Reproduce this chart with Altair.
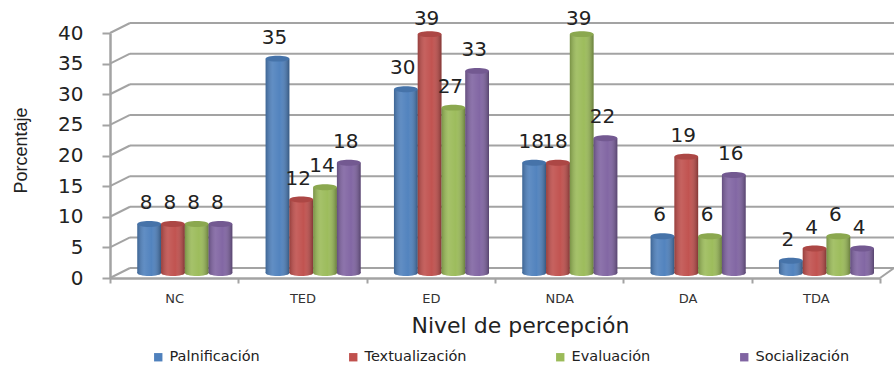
import altair as alt
import pandas as pd

# Survey results by perception level
categories = ["NC", "TED", "ED", "NDA", "DA", "TDA"]
series = ["Palnificación", "Textualización", "Evaluación", "Socialización"]
colors = ["#4f81bd", "#c0504d", "#9bbb59", "#8064a2"]
palnificacion = [8, 35, 30, 18, 6, 2]
textualizacion = [8, 12, 39, 18, 19, 4]
evaluacion = [8, 14, 27, 39, 6, 6]
socializacion = [8, 18, 33, 22, 16, 4]
y_ticks = [0, 5, 10, 15, 20, 25, 30, 35, 40]

rows = []
for name, values in zip(series, [palnificacion, textualizacion, evaluacion, socializacion]):
    for cat, v in zip(categories, values):
        rows.append({"cat": cat, "serie": name, "value": v})
data = pd.DataFrame(rows)
grid = pd.DataFrame({"tick": y_ticks})

GRAY = "#a3a3a3"
DEPTH_X = 20      # horizontal depth of the pseudo-3D box, px
DEPTH_Y = 10      # vertical depth of the pseudo-3D box, px
PLOT_W = 770
PLOT_H = 245
UNITS_PER_PX = 40 / PLOT_H
LIFT = -5         # cylinders stand mid-way on the floor

x_enc = alt.X(
    "cat:N",
    sort=categories,
    scale=alt.Scale(domain=categories, paddingInner=0, paddingOuter=0),
    axis=alt.Axis(
        title="Nivel de percepción",
        titleFont="DejaVu Sans",
        titleFontSize=22,
        titleFontWeight="normal",
        titleColor="#222222",
        titleX=410,
        titleY=37,
        labelFont="DejaVu Sans",
        labelFontSize=13,
        labelColor="#333333",
        labelAngle=0,
        labelPadding=9,
        tickBand="extent",
        tickSize=5,
        tickColor=GRAY,
        tickWidth=2,
        domainColor=GRAY,
        domainWidth=2.5,
    ),
)
y_axis = alt.Axis(
    title="Porcentaje",
    titleFont="Liberation Sans",
    titleFontSize=18,
    titleFontWeight="normal",
    titleColor="#222222",
    titleX=-80,
    titleY=117,
    labelFont="DejaVu Sans",
    labelFontSize=20,
    labelColor="#222222",
    labelPadding=19,
    values=y_ticks,
    tickSize=8,
    tickColor=GRAY,
    tickWidth=2,
    domainColor=GRAY,
    domainWidth=2.5,
    grid=False,
)
y_scale = alt.Scale(domain=[0, 40], nice=False)


def y_enc(field):
    return alt.Y(field, scale=y_scale, axis=y_axis, stack=None)


color_enc = alt.Color(
    "serie:N",
    sort=series,
    scale=alt.Scale(domain=series, range=colors),
    legend=alt.Legend(
        title=None,
        orient="none",
        direction="horizontal",
        columns=4,
        legendX=41,
        legendY=317,
        symbolType="square",
        symbolSize=70,
        symbolStrokeWidth=0,
        labelFont="DejaVu Sans",
        labelFontSize=14.5,
        labelColor="#222222",
        columnPadding=86,
        gridAlign="none",
    ),
)
# Groups sit toward the right of each band so the cylinders look set back from the axis
offset_enc = alt.XOffset(
    "serie:N",
    sort=series,
    scale=alt.Scale(domain=series, paddingInner=0, paddingOuter=0.7, align=0.82),
)

ELLIPSE = "M-1,0A1,0.25,0,1,1,1,0A1,0.25,0,1,1,-1,0Z"
ELLIPSE_SIZE = 560

shade = alt.Gradient(
    gradient="linear",
    x1=0, x2=1, y1=0, y2=0,
    stops=[
        alt.GradientStop(offset=0, color="rgba(0,0,0,0.22)"),
        alt.GradientStop(offset=0.3, color="rgba(255,255,255,0.10)"),
        alt.GradientStop(offset=0.6, color="rgba(255,255,255,0.02)"),
        alt.GradientStop(offset=1, color="rgba(0,0,0,0.32)"),
    ],
)

# Back wall and its slanted connectors down to the front axis
back_lines = (
    alt.Chart(grid)
    .mark_rule(color=GRAY, strokeWidth=2, yOffset=-DEPTH_Y, y2Offset=-DEPTH_Y)
    .encode(x=alt.value(DEPTH_X), x2=alt.value(PLOT_W + 14), y=y_enc("tick:Q"))
)
slants = (
    alt.Chart(grid)
    .transform_calculate(back=f"datum.tick + {DEPTH_Y * UNITS_PER_PX}")
    .mark_rule(color=GRAY, strokeWidth=2)
    .encode(x=alt.value(0), x2=alt.value(DEPTH_X), y=y_enc("tick:Q"), y2="back:Q")
)
floor_end = (
    alt.Chart(grid[grid.tick == 0])
    .transform_calculate(back=f"datum.tick + {DEPTH_Y * UNITS_PER_PX}")
    .mark_rule(color=GRAY, strokeWidth=2)
    .encode(x=alt.value(PLOT_W), x2=alt.value(PLOT_W + 14), y=y_enc("tick:Q"), y2="back:Q")
)

base = alt.Chart(data)
ellipse_style = dict(shape=ELLIPSE, size=ELLIPSE_SIZE, filled=True, strokeWidth=0, opacity=1, yOffset=LIFT)
y_zero = alt.Y(datum=0, scale=y_scale, axis=y_axis)

bottoms = base.mark_point(**ellipse_style).encode(
    x=x_enc, xOffset=offset_enc, y=y_zero, color=color_enc
)
bottoms_shade = base.mark_point(fill=shade, **ellipse_style).encode(
    x=x_enc, xOffset=offset_enc, y=y_zero
)
bars = base.mark_bar(yOffset=LIFT, y2Offset=LIFT).encode(
    x=x_enc, xOffset=offset_enc, y=y_enc("value:Q"), y2=alt.Y2(datum=0), color=color_enc
)
bars_shade = base.mark_bar(yOffset=LIFT, y2Offset=LIFT, fill=shade, opacity=1).encode(
    x=x_enc, xOffset=offset_enc, y=y_enc("value:Q"), y2=alt.Y2(datum=0)
)
tops = base.mark_point(**ellipse_style).encode(
    x=x_enc, xOffset=offset_enc, y=y_enc("value:Q"), color=color_enc
)
tops_shade = base.mark_point(fill="rgba(0,0,0,0.10)", **ellipse_style).encode(
    x=x_enc, xOffset=offset_enc, y=y_enc("value:Q")
)

labels = (
    base.transform_calculate(label_pos="min(datum.value, 38)")
    .mark_text(font="DejaVu Sans", fontSize=20, color="#222222", dx=-3, dy=-26)
    .encode(x=x_enc, xOffset=offset_enc, y=y_enc("label_pos:Q"), text="value:Q")
)

chart = (
    alt.layer(
        back_lines, slants, floor_end,
        bottoms, bottoms_shade, bars, bars_shade, tops, tops_shade, labels,
    )
    .properties(
        width=PLOT_W,
        height=PLOT_H,
        autosize=alt.AutoSizeParams(type="none"),
        padding={"left": 110, "top": 33, "right": 14, "bottom": 87},
        background="white",
    )
    .configure_view(stroke=None)
)

chart.save("out.html", embed_options={"renderer": "svg", "actions": False})
